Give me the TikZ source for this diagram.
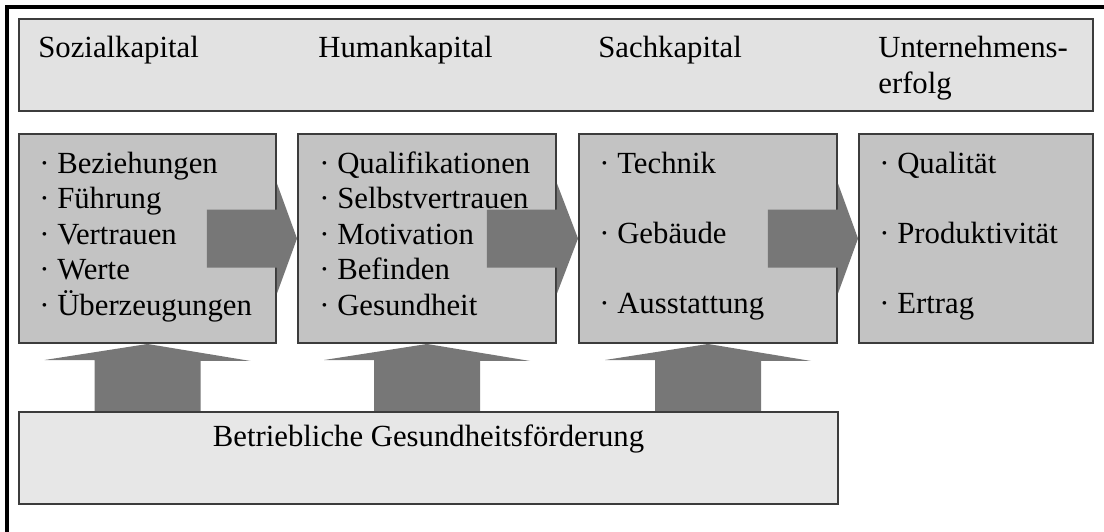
\documentclass[tikz,border=0pt]{standalone}
\usepackage{fontspec}
\setmainfont{Liberation Serif}
\usetikzlibrary{calc}

\definecolor{hellgrau}{HTML}{E2E2E2}
\definecolor{bodengrau}{HTML}{E7E7E7}
\definecolor{mittelgrau}{HTML}{C3C3C3}
\definecolor{pfeilgrau}{HTML}{777777}
\definecolor{randgrau}{HTML}{3C3C3C}

\begin{document}
\begin{tikzpicture}
  [x=0.02cm, y=-0.02cm,
    kopf/.style={
      draw=randgrau, line width=1.1pt,
      fill=hellgrau,
      inner sep=0pt,
      minimum height=92*0.02cm
    },
    kasten/.style={
      draw=randgrau, line width=1.1pt,
      fill=mittelgrau,
      inner sep=0pt,
      minimum height=209*0.02cm
    },
    pfeil/.style={
      fill=pfeilgrau
    },
    txt/.style={
      anchor=base west, inner sep=0pt,
      font=\fontsize{17.5}{20.4}\selectfont
    }
  ]
  \useasboundingbox (0,0) rectangle (1104,531);
  \clip (0,0) rectangle (1104,531);
  \draw[line width=1.8pt] (7,7) rectangle (1130,560);

  % Kopfzeile
  \node[kopf, minimum width=1074*0.02cm] (kopf) at (556,65) {};
  \node[txt] (t-sozial) at (38,57) {Sozialkapital};
  \node[txt] (t-human) at (318,57) {Humankapital};
  \node[txt] (t-sach) at (598,57) {Sachkapital};
  \node[txt, align=left] (t-erfolg) at (878,93) {Unternehmens-\\erfolg};

  % Kaesten
  \node[kasten, minimum width=257*0.02cm] (sozial) at (147.5,238.5) {};
  \node[kasten, minimum width=258*0.02cm] (human) at (427,238.5) {};
  \node[kasten, minimum width=258*0.02cm] (sach) at (708,238.5) {};
  \node[kasten, minimum width=234*0.02cm] (erfolg) at (976,238.5) {};

  % Pfeile nach oben
  \foreach \a in {sozial, human, sach}
    \fill[pfeil] ($(\a.south |- 0,412)+(-53,0)$) -- ++(0,-52) -- ++(-50,0)
      -- (\a.south) -- ($(\a.south)+(103,17)$) -- ++(-50,0)
      -- ($(\a.south |- 0,412)+(53,0)$) -- cycle;

  \node[kopf, fill=bodengrau, minimum width=819*0.02cm] (bgf) at (428.5,458) {};
  \node[txt, anchor=base] (t-bgf) at (428.5,446) {Betriebliche Gesundheitsförderung};

  % Pfeile nach rechts
  \foreach \a/\b in {sozial/human, human/sach, sach/erfolg}
    \fill[pfeil] ($(\a.east)+(-70,-29)$) -- ($(\a.east)+(0,-29)$)
      -- ($(\a.east)+(0,-55)$) -- (\b.west) -- ($(\a.east)+(0,55)$)
      -- ($(\a.east)+(0,29)$) -- ($(\a.east)+(-70,29)$) -- cycle;

  % Listen
  \foreach \t [count=\i] in {Beziehungen, Führung, Vertrauen, Werte, Überzeugungen}
    \node[txt] (s\i) at (39,{173+35.5*(\i-1)}) {· \t};
  \foreach \t [count=\i] in {Qualifikationen, Selbstvertrauen, Motivation, Befinden, Gesundheit}
    \node[txt] (h\i) at (319,{173+35.5*(\i-1)}) {· \t};
  \foreach \t [count=\i] in {Technik, Gebäude, Ausstattung}
    \node[txt] (c\i) at (599,{173+70*(\i-1)}) {· \t};
  \foreach \t [count=\i] in {Qualität, Produktivität, Ertrag}
    \node[txt] (e\i) at (879,{173+70*(\i-1)}) {· \t};
\end{tikzpicture}
\end{document}
